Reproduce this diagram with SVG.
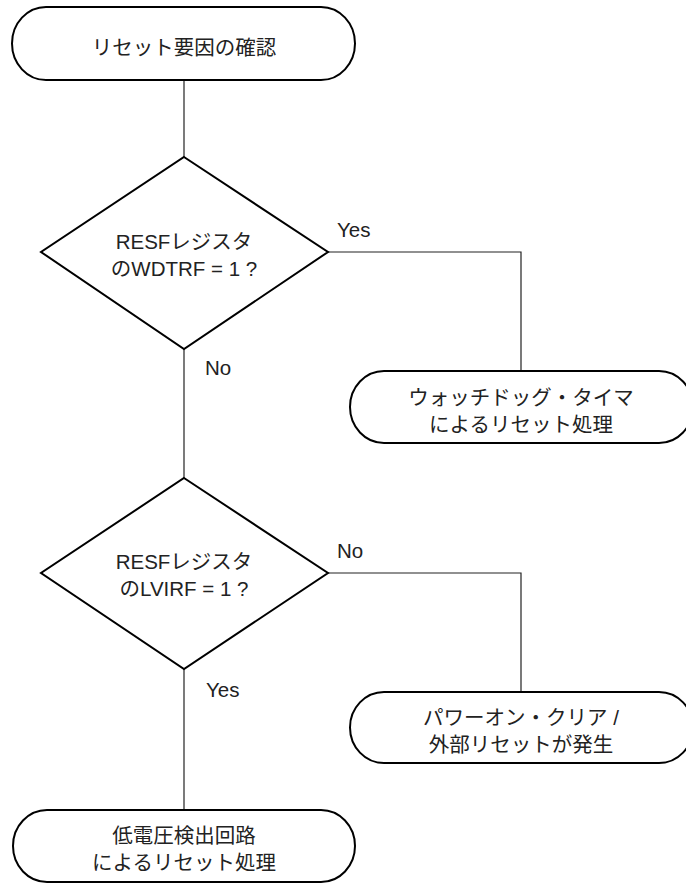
<svg xmlns="http://www.w3.org/2000/svg" width="686" height="884" viewBox="0 0 686 884">
<style>
.term{fill:#fff;stroke:#000;stroke-width:2}
.dec{fill:#fff;stroke:#000;stroke-width:2}
.conn{fill:none;stroke:#222;stroke-width:1.2}
text{font-family:"Liberation Sans","Noto Sans CJK JP",sans-serif;font-size:20.5px;fill:#222}
.c{text-anchor:middle}
</style>
<rect width="686" height="884" fill="#fff"/>
<g id="connectors">
<path class="conn" d="M184 80V157"/>
<path class="conn" d="M184 349V478"/>
<path class="conn" d="M328 252H521V371"/>
<path class="conn" d="M328 573H521V692"/>
<path class="conn" d="M184 669V810"/>
<text x="337" y="237">Yes</text>
<text x="205" y="375">No</text>
<text x="337" y="558">No</text>
<text x="206" y="697">Yes</text>
</g>
<g id="start">
<rect class="term" x="12" y="7" width="343" height="73" rx="34" ry="36.5"/>
<text class="c" x="184" y="55">リセット要因の確認</text>
</g>
<g id="dec1">
<polygon class="dec" points="184,157 328,252 184,349 41,252"/>
<text class="c" x="184" y="249">RESFレジスタ</text>
<text class="c" x="184" y="276">のWDTRF = 1 ?</text>
</g>
<g id="wdt">
<rect class="term" x="350" y="371" width="343" height="72" rx="34" ry="36"/>
<text class="c" x="521" y="405">ウォッチドッグ・タイマ</text>
<text class="c" x="521" y="432">によるリセット処理</text>
</g>
<g id="dec2">
<polygon class="dec" points="184,478 328,573 184,669 41,573"/>
<text class="c" x="184" y="569">RESFレジスタ</text>
<text class="c" x="184" y="596">のLVIRF = 1 ?</text>
</g>
<g id="poc">
<rect class="term" x="350" y="692" width="343" height="71" rx="34" ry="35.5"/>
<text class="c" x="521" y="725">パワーオン・クリア /</text>
<text class="c" x="521" y="752">外部リセットが発生</text>
</g>
<g id="lvi">
<rect class="term" x="13" y="810" width="342" height="72" rx="34" ry="36"/>
<text class="c" x="184" y="843">低電圧検出回路</text>
<text class="c" x="184" y="870">によるリセット処理</text>
</g>
</svg>
